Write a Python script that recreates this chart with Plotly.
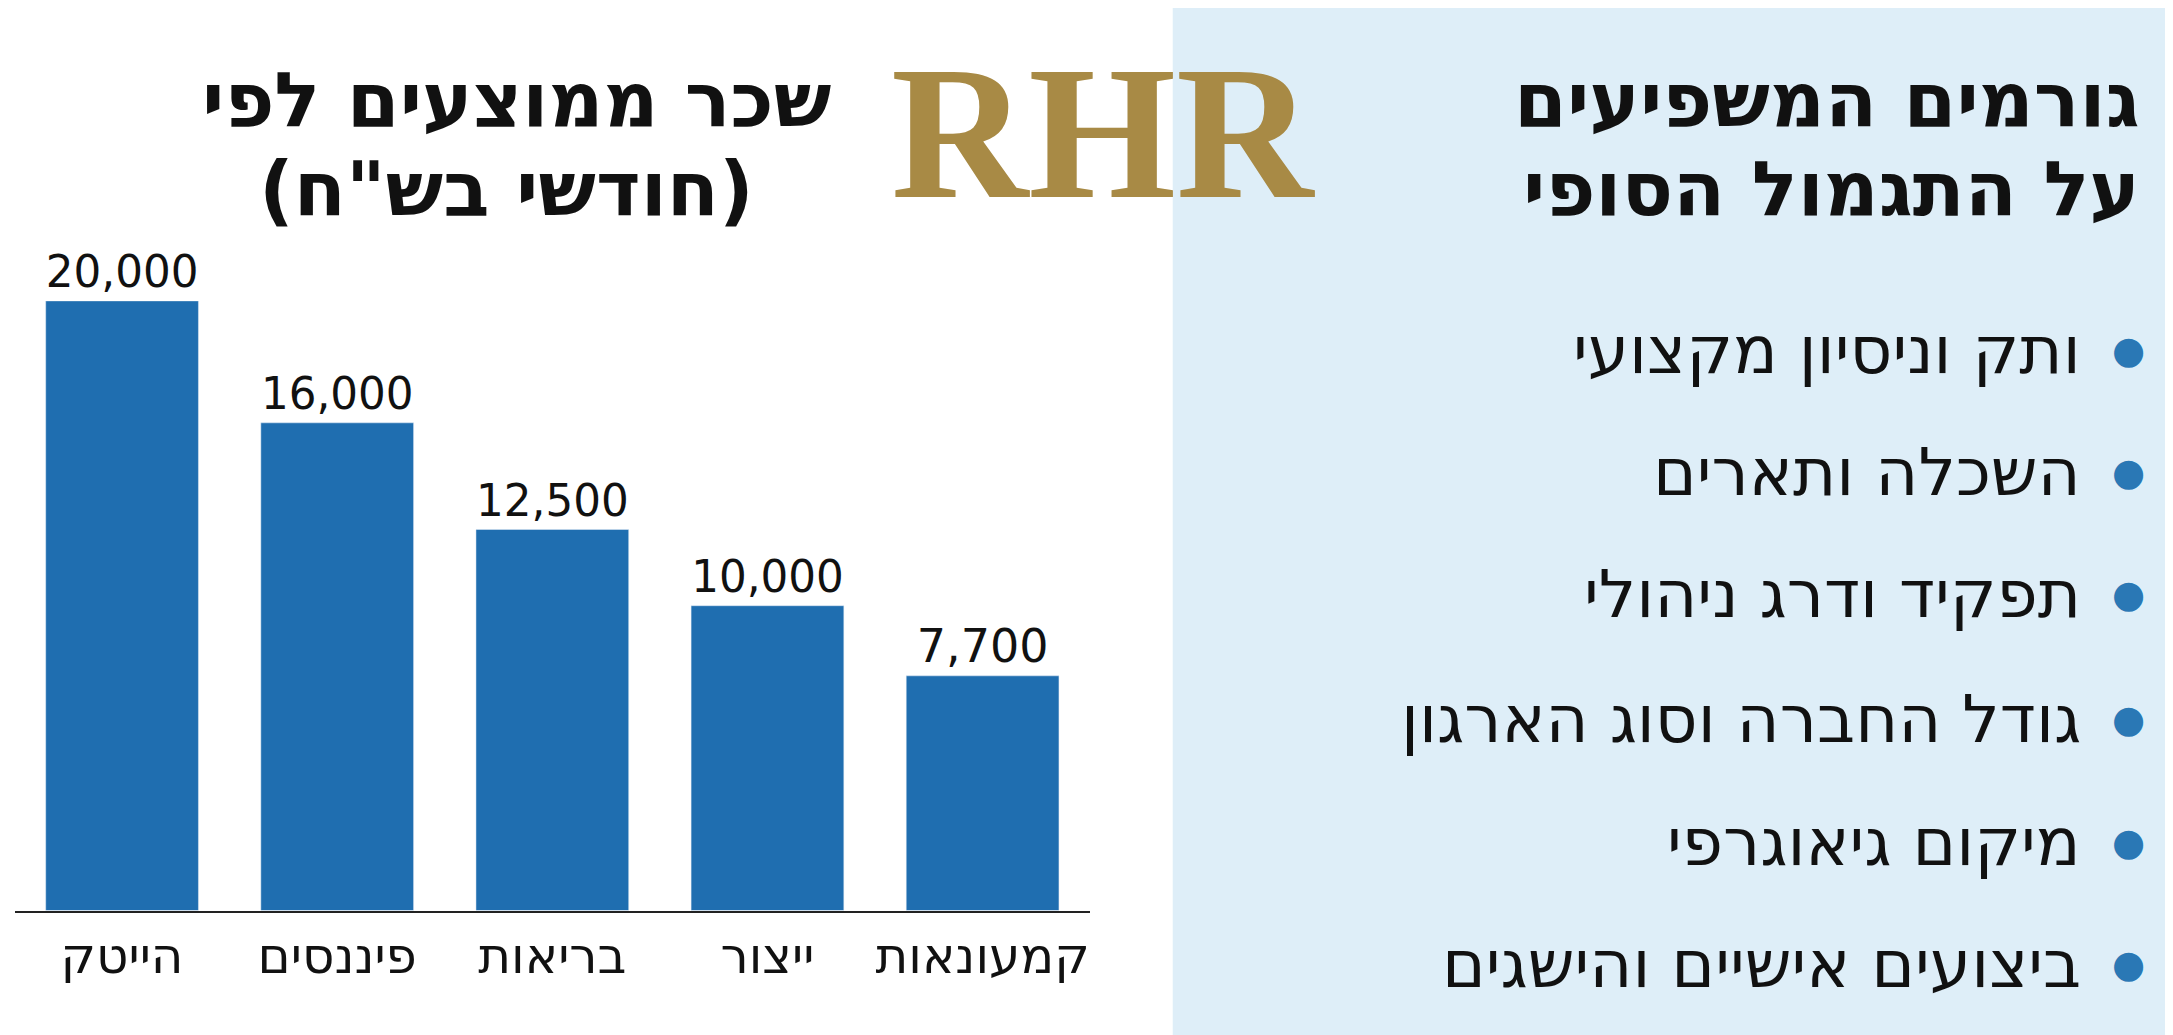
import plotly.graph_objects as go

sectors = ["הייטק", "פיננסים", "בריאות", "ייצור", "קמעונאות"]
salaries = [20000, 16000, 12500, 10000, 7700]
salary_labels = ["20,000", "16,000", "12,500", "10,000", "7,700"]
factors = ["ותק וניסיון מקצועי", "השכלה ותארים", "תפקיד ודרג ניהולי",
           "גודל החברה וסוג הארגון", "מיקום גיאוגרפי", "ביצועים אישיים והישגים"]

W, H = 2173, 1035
FONT = "DejaVu Sans"

fig = go.Figure(go.Bar(
    x=sectors, y=salaries, text=salary_labels, textposition="outside",
    textfont=dict(size=46, color="#111111", family=FONT),
    marker_color="#1F6EB0", width=0.71, cliponaxis=False,
))

fig.update_layout(
    width=W, height=H, margin=dict(l=0, r=0, t=0, b=0),
    paper_bgcolor="white", plot_bgcolor="white", showlegend=False,
    xaxis=dict(domain=[0.003, 0.498], showline=True, linecolor="#222", linewidth=2,
               tickfont=dict(size=50, color="#111", family=FONT), ticks=""),
    yaxis=dict(domain=[0.128, 0.717], range=[0, 20000], visible=False),
)

# light blue panel on the right
fig.add_shape(type="rect", xref="paper", yref="paper", x0=0.536, x1=1, y0=-0.01, y1=1.01,
              fillcolor="#DEEEF8", line_width=0, layer="below")


def label(x, y, text, size, color="#111", family=FONT, xanchor="right"):
    fig.add_annotation(x=x / W, y=1 - y / H, xref="paper", yref="paper",
                       xanchor=xanchor, yanchor="middle", text=text, showarrow=False,
                       font=dict(size=size, color=color, family=family))


# left title
label(825, 92, "<b>שכר ממוצעים לפי</b>", 76)
label(748, 182, '<b>(חודשי בש"ח)</b>', 76)

# logo
label(1095, 125, "<b>RHR</b>", 190, color="#A88A45", family="Liberation Serif", xanchor="center")

# right title
label(2134, 92, "<b>גורמים המשפיעים</b>", 76)
label(2134, 182, "<b>על התגמול הסופי</b>", 76)

ys = [342, 464, 586, 711, 834, 956]
for f, yy in zip(factors, ys):
    label(2075, yy, f, 66)
    label(2120, yy, "●", 38, color="#2A78B5", xanchor="center")

fig.write_html("out.html")
